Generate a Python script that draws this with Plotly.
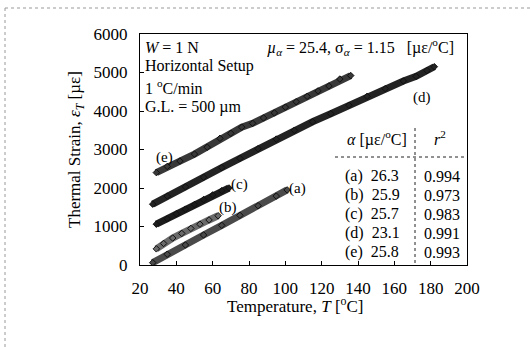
import plotly.graph_objects as go

# ---- data ----
T_a = [27, 35, 45, 55, 65, 75, 85, 95, 101]
S_a = [60, 280, 520, 780, 1030, 1290, 1540, 1790, 1950]

T_b = [29, 33, 38, 43, 48, 53, 58, 63]
S_b = [420, 560, 700, 820, 950, 1060, 1170, 1280]

T_c = [29, 35, 40, 45, 50, 55, 60, 65, 69]
S_c = [1060, 1200, 1330, 1450, 1570, 1700, 1820, 1930, 2000]

T_d = [27, 35, 45, 55, 65, 75, 85, 95, 105, 115, 125, 135, 145, 155, 165, 172, 178, 182]
S_d = [1580, 1790, 2030, 2280, 2530, 2770, 3020, 3270, 3500, 3720, 3930, 4150, 4380, 4580, 4780, 4900, 5050, 5150]

T_e = [29, 35, 42, 50, 57, 64, 70, 76, 82, 88, 94, 100, 106, 112, 118, 124, 130, 136]
S_e = [2400, 2560, 2700, 2880, 3060, 3290, 3420, 3580, 3680, 3820, 3950, 4100, 4240, 4380, 4520, 4650, 4830, 4920]

series_names = ["(a)", "(b)", "(c)", "(d)", "(e)"]
alpha_vals = ["26.3", "25.9", "25.7", "23.1", "25.8"]
r2_vals = ["0.994", "0.973", "0.983", "0.991", "0.993"]

x_ticks = [20, 40, 60, 80, 100, 120, 140, 160, 180, 200]
y_ticks = [0, 1000, 2000, 3000, 4000, 5000, 6000]

# ---- layout geometry ----
W, H = 530, 347
L, R, TOP, B = 140, 63, 34, 82
PW, PH = W - L - R, H - TOP - B
FONT = "Liberation Serif"


def px(x):
    return (x - L) / PW


def py(y):
    return (H - B - y) / PH


fig = go.Figure()
colors = ["#4a4a4a", "#6a6a6a", "#1c1c1c", "#232323", "#383838"]
for T, S, c, n in zip([T_a, T_b, T_c, T_d, T_e], [S_a, S_b, S_c, S_d, S_e], colors, series_names):
    fig.add_trace(go.Scatter(
        x=T, y=S, mode="lines+markers", name=n,
        line=dict(color=c, width=7),
        marker=dict(symbol="diamond", size=5, color=c, line=dict(color="#111", width=1)),
        showlegend=False,
    ))

ann = []


def add_text(x, y, text, size=16, xanchor="center", **kw):
    ann.append(dict(x=px(x), y=py(y), xref="paper", yref="paper", text=text, showarrow=False,
                    xanchor=xanchor, yanchor="middle", font=dict(family=FONT, size=size, color="black"), **kw))


# series labels (data coordinates)
lab_pos = [(106.7, 2000), (68.6, 1500), (75, 2080), (175, 4360), (33.3, 2805)]
for (t, s), n in zip(lab_pos, series_names):
    ann.append(dict(x=t, y=s, xref="x", yref="y", text=n, showarrow=False,
                    xanchor="center", yanchor="middle",
                    font=dict(family=FONT, size=15, color="black")))

# condition notes
add_text(143, 47, "<i>W</i> = 1 N", xanchor="left")
add_text(143, 66, "Horizontal Setup", xanchor="left")
add_text(143, 87, "1 <sup>o</sup>C/min", xanchor="left")
add_text(143, 107, "G.L. = 500 µm", xanchor="left")
add_text(265, 47, "<i>µ<sub>α</sub></i> = 25.4, σ<sub><i>α</i></sub> = 1.15   [µε/<sup>o</sup>C]", xanchor="left")

# table
add_text(377, 138, "<i>α</i> [µε/<sup>o</sup>C]", size=16)
add_text(440, 138, "<i>r</i><sup>2</sup>", size=16)
row_y = [176, 195, 214, 233, 252]
for yy, n, a, r2 in zip(row_y, series_names, alpha_vals, r2_vals):
    add_text(343, yy, f"{n}  {a}", size=16, xanchor="left")
    add_text(442, yy, r2, size=16)

# axis titles
add_text(295, 305, "Temperature, <i>T</i> [<sup>o</sup>C]", size=17)
ann.append(dict(x=px(76), y=py(150), xref="paper", yref="paper", textangle=-90,
                xanchor="center", yanchor="middle",
                text="Thermal Strain, <i>ε<sub>T</sub></i> [µε]", showarrow=False,
                font=dict(family=FONT, size=17, color="black")))

shapes = [
    # table lines
    dict(type="line", xref="paper", yref="paper", x0=px(415), x1=px(415), y0=py(128), y1=py(265),
         line=dict(color="#222", width=1, dash="dot")),
    dict(type="line", xref="paper", yref="paper", x0=px(335), x1=px(467), y0=py(157), y1=py(157),
         line=dict(color="#222", width=1, dash="dot")),
    # outer dashed frame
    dict(type="line", xref="paper", yref="paper", x0=px(5), x1=px(540), y0=py(8), y1=py(8),
         line=dict(color="#999", width=1, dash="dot")),
    dict(type="line", xref="paper", yref="paper", x0=px(5), x1=px(5), y0=py(8), y1=py(360),
         line=dict(color="#999", width=1, dash="dot")),
]

fig.update_layout(
    width=W, height=H, autosize=False,
    margin=dict(l=L, r=R, t=TOP, b=B),
    paper_bgcolor="white", plot_bgcolor="white",
    font=dict(family=FONT, size=17, color="black"),
    annotations=ann, shapes=shapes,
    xaxis=dict(range=[20, 200], tickvals=x_ticks, ticks="inside", ticklen=4, tickcolor="black",
               showline=True, linecolor="black", linewidth=1, mirror=True, showgrid=False, zeroline=False,
               tickfont=dict(family=FONT, size=17), ticklabelstandoff=8),
    yaxis=dict(range=[0, 6000], tickvals=y_ticks, ticks="inside", ticklen=4, tickcolor="black",
               showline=True, linecolor="black", linewidth=1, mirror=True, showgrid=False, zeroline=False,
               tickfont=dict(family=FONT, size=17), ticklabelstandoff=8),
)

fig.write_html("out.html", config={"displayModeBar": False})

# remove the default page margin so the figure sits at the window's top-left corner
with open("out.html", encoding="utf-8") as f:
    html = f.read()
html = html.replace("<head>", "<head><style>html,body{margin:0;padding:0;}</style>", 1)
with open("out.html", "w", encoding="utf-8") as f:
    f.write(html)
